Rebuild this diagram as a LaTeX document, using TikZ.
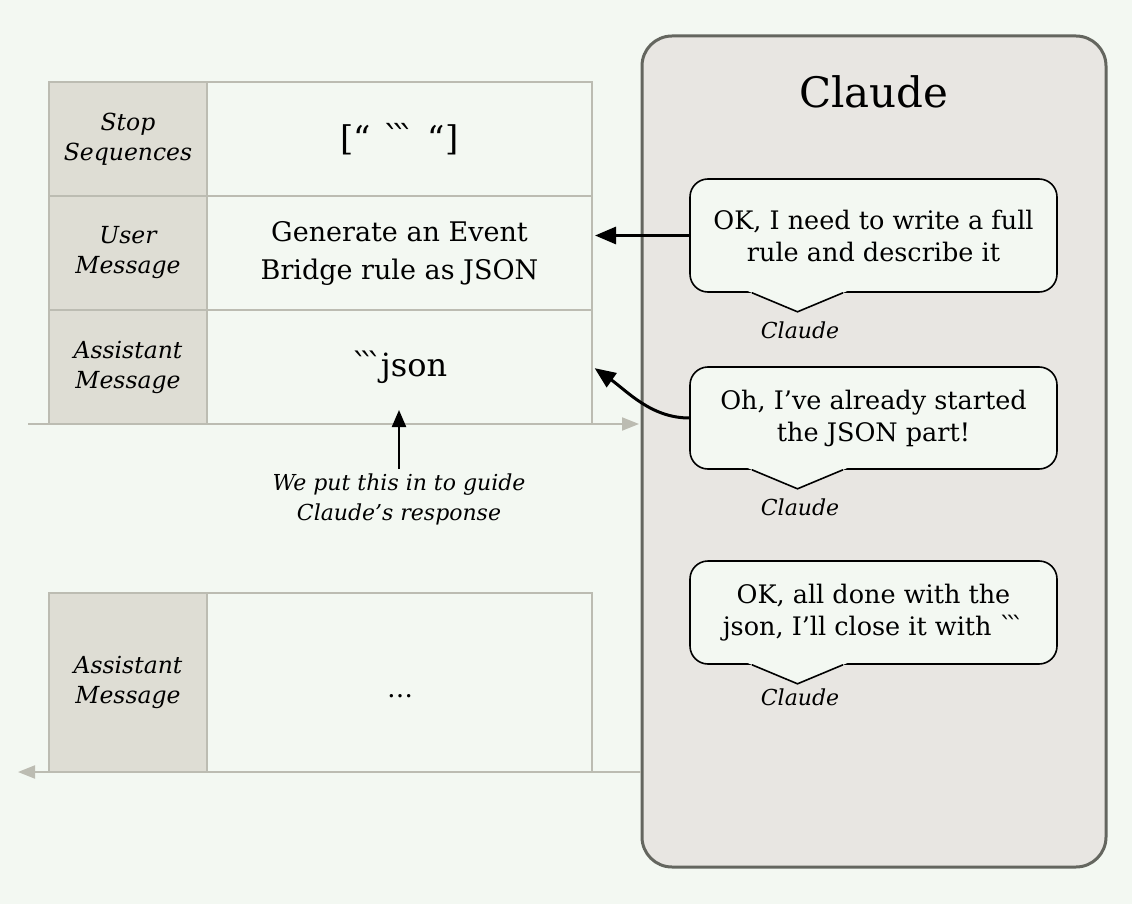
\documentclass[tikz,border=0pt]{standalone}
\usepackage{fontspec}
\setmainfont{DejaVu Serif}
\newfontfamily\rawfont{DejaVu Serif}
\usetikzlibrary{arrows.meta,calc}
\definecolor{bgc}{RGB}{243,248,242}
\definecolor{hdrc}{RGB}{222,221,212}
\definecolor{gridc}{RGB}{188,188,178}
\definecolor{panelc}{RGB}{232,230,226}
\definecolor{paneld}{RGB}{100,102,95}
\newcommand\onebt{{\rawfont\symbol{"60}}}
\newcommand\threebt{\onebt\kern-0.27em\onebt\kern-0.27em\onebt}
\tikzset{
  hdr/.style={draw=gridc, line width=2pt, fill=hdrc, minimum width=158, minimum height=114, align=center, inner sep=0pt,
    font=\fontsize{23.5}{30}\selectfont\itshape},
  cell/.style={draw=gridc, line width=2pt, fill=bgc, minimum width=385, minimum height=114, align=center, inner sep=0pt,
    font=\fontsize{27}{38}\selectfont},
  panel/.style={draw=paneld, line width=3pt, fill=panelc, rounded corners=30pt, minimum width=464, minimum height=831, inner sep=0pt},
  bubble/.style={draw=black, line width=1.6pt, fill=bgc, rounded corners=18pt, minimum width=367, align=center, inner sep=0pt,
    font=\fontsize{25.5}{32}\selectfont},
  tailline/.style={draw=black, line width=1.6pt, line join=miter},
  blabel/.style={anchor=base, inner sep=0pt, font=\fontsize{22}{28}\selectfont\itshape},
  arr/.style={-{Triangle[length=21pt,width=17pt]}, line width=3pt, draw=black},
  varr/.style={-{Triangle[length=17pt,width=14pt]}, line width=2.2pt, draw=black},
  garr/.style={-{Triangle[length=17pt,width=13pt]}, line width=2pt, draw=gridc}
}
\begin{document}
\begin{tikzpicture}[x=1pt,y=-1pt]
\fill[bgc] (0,0) rectangle (1132,904);
\useasboundingbox (0,0) rectangle (1132,904);

% Claude panel
\node[panel] (panel) at (874,451.5) {};
\node[anchor=base, inner sep=0pt, font=\fontsize{42}{50}\selectfont] (ptitle) at (874,108) {Claude};

% flow lines
\coordinate (f1s) at (28,424);
\coordinate (f2e) at (18,772);
\draw[garr, shorten >=1.5pt] (f1s) -- (f1s -| panel.west);
\draw[garr] (f2e -| panel.west) -- (f2e);

% top table
\node[hdr] (h1) at (128,139) {Stop\\Sequences};
\node[cell] (c1) at (399.5,139) {\fontsize{34}{40}\selectfont [“\hspace{0.35em}\threebt\hspace{0.35em}“]};
\node[hdr] (h2) at (128,253) {User\\Message};
\node[cell] (c2) at (399.5,253) {Generate an Event\\Bridge rule as JSON};
\node[hdr] (h3) at (128,367) {Assistant\\Message};
\node[cell] (c3) at (399.5,367) {\fontsize{32}{38}\selectfont\threebt\kern-0.05em json};

% bottom table
\node[hdr, minimum height=179] (h4) at (128,682.5) {Assistant\\Message};
\node[cell, minimum height=179] (c4) at (399.5,682.5) {};
\node[anchor=base, inner sep=0pt, font=\fontsize{26}{30}\selectfont] (dots) at (400,697) {…};

% guide note
\node[anchor=north, inner sep=0pt, align=center, font=\fontsize{22}{30}\selectfont\itshape] (note) at (399,474) {We put this in to guide\\Claude’s response};
\coordinate (guidetip) at (399,410);
\draw[varr] ([yshift=5pt]note.north) -- (guidetip);

% bubbles
\node[bubble, minimum height=113] (b1) at (873.5,235.5) {OK, I need to write a full\\rule and describe it};
\node[bubble, minimum height=102] (b2) at (873.5,418) {Oh, I’ve already started\\the JSON part!};
\node[bubble, minimum height=103] (b3) at (873.5,612.5) {OK, all done with the\\json, I’ll close it with \threebt};
\foreach \b in {b1,b2,b3}{
  \path (\b.south) ++(-121.5,0) coordinate (\b-l) ++(45.5,19) coordinate (\b-t) ++(45.5,-19) coordinate (\b-r);
  \fill[bgc] ($(\b-l)+(-7.2,-3)$) -- (\b-t) -- ($(\b-r)+(7.2,-3)$) -- cycle;
  \draw[tailline] (\b-l) -- (\b-t) -- (\b-r);
}
\node[blabel] (l1) at (800,338) {Claude};
\node[blabel] (l2) at (800,515) {Claude};
\node[blabel] (l3) at (800,705) {Claude};

% arrows from bubbles
\draw[arr, shorten >=2pt] (b1.west) -- (b1.west -| c2.east);
\draw[arr, shorten >=2pt] (b2.west) .. controls +(-38,0) and +(34,24) .. (c3.east);
\end{tikzpicture}
\end{document}
